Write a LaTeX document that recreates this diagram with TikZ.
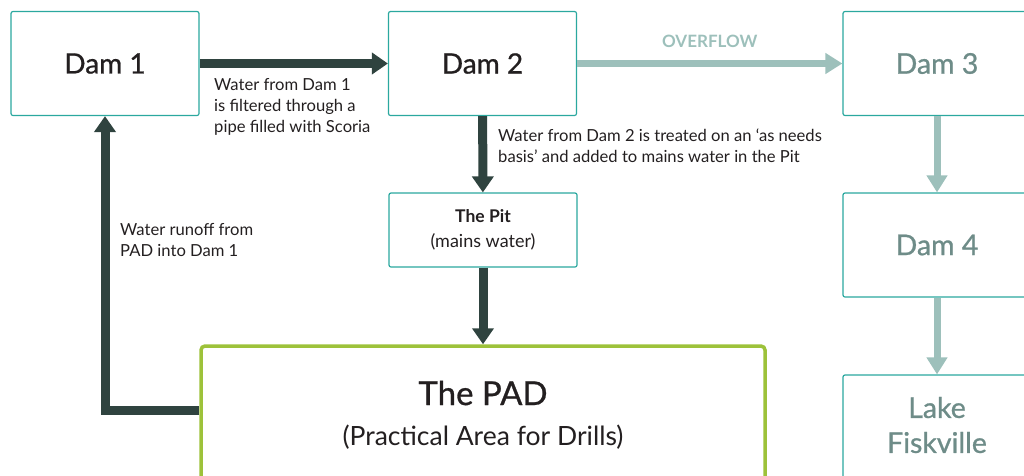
\documentclass[tikz,border=0pt]{standalone}
\usepackage{fontspec}
\setmainfont{Lato}
\newfontfamily\semib{Lato}[FakeBold=0.8]
\usetikzlibrary{arrows.meta}
\definecolor{teal}{HTML}{2BA89F}
\definecolor{darkarr}{HTML}{2F433F}
\definecolor{lightarr}{HTML}{9DC0BB}
\definecolor{lighttxt}{HTML}{6E8C88}
\definecolor{padgreen}{HTML}{9DC23A}
\definecolor{txt}{HTML}{231F20}
\begin{document}
\begin{tikzpicture}[x=1pt,y=-1pt,
  box/.style={draw=teal,line width=1.2pt,rounded corners=2pt,fill=white,
    minimum width=188pt,minimum height=104pt,inner sep=0pt,align=center},
  damlabel/.style={font=\semib\fontsize{28}{30}\selectfont,text=txt},
  greylabel/.style={font=\semib\fontsize{28.5}{35}\selectfont,text=lighttxt},
  darrow/.style={draw=darkarr,line width=9pt,-{Triangle[length=16pt,width=21pt]}},
  larrow/.style={draw=lightarr,line width=7pt,-{Triangle[length=17pt,width=20pt]}},
  note/.style={font=\fontsize{16.6}{21}\selectfont,text=txt,align=left,inner sep=0pt,anchor=north west},
]
\useasboundingbox (0,0) rectangle (1024,475);
\node[box,damlabel] (dam1) at (105,63.5) {Dam 1};
\node[box,damlabel] (dam2) at (482.5,63.5) {Dam 2};
\node[box,greylabel] (dam3) at (937,63.5) {Dam 3};
\node[box,greylabel] (dam4) at (937,245) {Dam 4};
\node[box,minimum height=110pt] (lake) at (937,430) {};
\node[greylabel,align=center,inner sep=0pt] (laket) at (937,425) {Lake\\Fiskville};
\node[box,minimum height=74pt,font=\fontsize{18}{25}\selectfont,text=txt] (pit) at (483,230)
  {{\bfseries\fontsize{17.5}{25}\selectfont The Pit}\\(mains water)};
\node[draw=padgreen,line width=3.5pt,rounded corners=4pt,fill=white,
  minimum width=564pt,minimum height=200pt,inner sep=0pt] (pad) at (483,446) {};
\node[font=\semib\fontsize{33}{36}\selectfont,text=txt,inner sep=0pt] (padt) at (483,393) {The PAD};
\node[font=\fontsize{26.5}{30}\selectfont,text=txt,inner sep=0pt] (pads) at (483,437) {(Practical Area for Drills)};
% arrows
\draw[darrow] (dam1) -- (dam2);
\draw[larrow] (dam2) -- node[above=9pt,font=\bfseries\fontsize{17}{18}\selectfont,text=lightarr] (ov) {OVERFLOW} (dam3);
\draw[darrow] (dam2) -- (pit);
\draw[darrow] (pit) -- (pad);
\coordinate (corner) at (105,410);
\draw[darrow] (corner -| pad.west) -- (corner) -- (dam1.south);
\draw[larrow] (dam3) -- (dam4);
\draw[larrow] (dam4) -- (lake);
% notes
\node[note] (n1) at (214,78) {Water from Dam 1\\is filtered through a\\pipe filled with Scoria};
\node[note] (n2) at (498,129) {Water from Dam 2 is treated on an ‘as needs\\basis’ and added to mains water in the Pit};
\node[note] (n3) at (120,223) {Water runoff from\\PAD into Dam 1};
\end{tikzpicture}
\end{document}
